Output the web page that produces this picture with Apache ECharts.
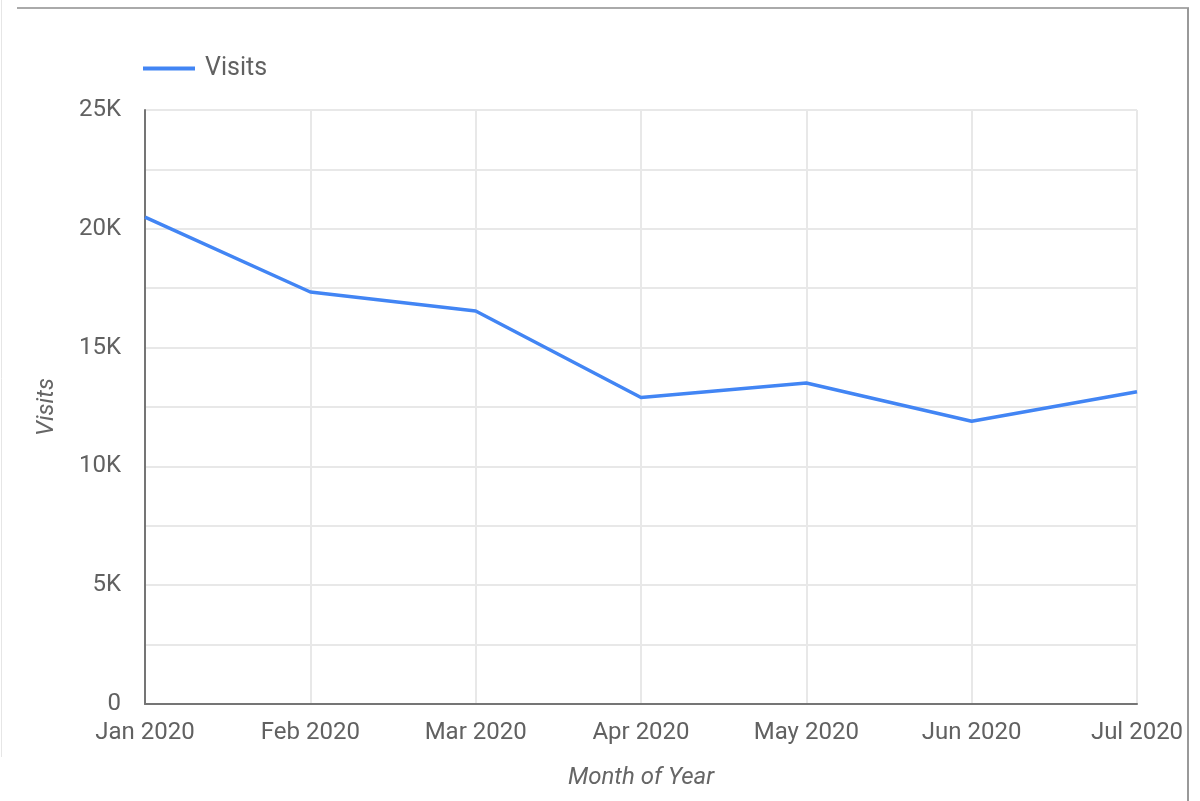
<!DOCTYPE html>
<html><head><meta charset="utf-8">
<script src="https://cdn.jsdelivr.net/npm/echarts@6/dist/echarts.min.js"></script>
<style>html,body{margin:0;padding:0;background:#fff}#c{width:1200px;height:801px}</style>
</head><body><div id="c"></div>
<script>
const categories = ['Jan 2020','Feb 2020','Mar 2020','Apr 2020','May 2020','Jun 2020','Jul 2020'];
const visits = [20490, 17340, 16540, 12900, 13510, 11900, 13140];
const yTicks = [0, 5000, 10000, 15000, 20000, 25000];
const tickLabels = ['0','5K','10K','15K','20K','25K'];

const chart = echarts.init(document.getElementById('c'));
const txt = '#616161';
chart.setOption({
  animation: false,
  textStyle: { fontFamily: 'Roboto' },
  graphic: [
    { type: 'line', shape: { x1: 17, y1: 8, x2: 1189, y2: 8 }, style: { stroke: '#aaaaaa', lineWidth: 2 } },
    { type: 'line', shape: { x1: 1188, y1: 8, x2: 1188, y2: 801 }, style: { stroke: '#999999', lineWidth: 2 } },
    { type: 'line', shape: { x1: 1.5, y1: 0, x2: 1.5, y2: 757 }, style: { stroke: '#e6e6e6', lineWidth: 1 } }
  ],
  legend: {
    left: 143, top: 56, padding: 0, itemWidth: 52, itemHeight: 4, itemGap: 10,
    icon: 'rect',
    textStyle: { color: txt, fontSize: 25, fontFamily: 'Roboto', padding: [0,0,0,5] },
    data: [{ name: 'Visits', icon: 'rect' }]
  },
  grid: { left: 145, right: 63, top: 110, bottom: 97, containLabel: false },
  xAxis: {
    type: 'category', data: categories, boundaryGap: false,
    name: 'Month of Year', nameLocation: 'middle', nameGap: 62,
    nameTextStyle: { color: '#666', fontSize: 24, fontStyle: 'italic', fontFamily: 'Roboto' },
    axisLine: { lineStyle: { color: '#757575', width: 2 } },
    axisTick: { show: false },
    axisLabel: { color: txt, fontSize: 24, margin: 17, fontFamily: 'Roboto' },
    splitLine: { show: true, lineStyle: { color: '#e8e8e8', width: 2 } }
  },
  yAxis: {
    type: 'value', min: 0, max: 25000, interval: 2500,
    name: 'Visits', nameLocation: 'middle', nameGap: 86,
    nameTextStyle: { color: '#666', fontSize: 24, fontStyle: 'italic', fontFamily: 'Roboto' },
    axisLine: { show: true, lineStyle: { color: '#757575', width: 2 } },
    axisTick: { show: false },
    axisLabel: {
      color: txt, fontSize: 24, margin: 24, fontFamily: 'Roboto',
      formatter: v => { const i = yTicks.indexOf(v); return i >= 0 ? tickLabels[i] : ''; }
    },
    splitLine: { show: true, lineStyle: { color: '#e8e8e8', width: 2 } }
  },
  series: [{
    name: 'Visits', type: 'line', data: visits,
    showSymbol: false, symbol: 'none',
    lineStyle: { color: '#4285f4', width: 3.5 },
    itemStyle: { color: '#4285f4' }
  }]
});
</script></body></html>
